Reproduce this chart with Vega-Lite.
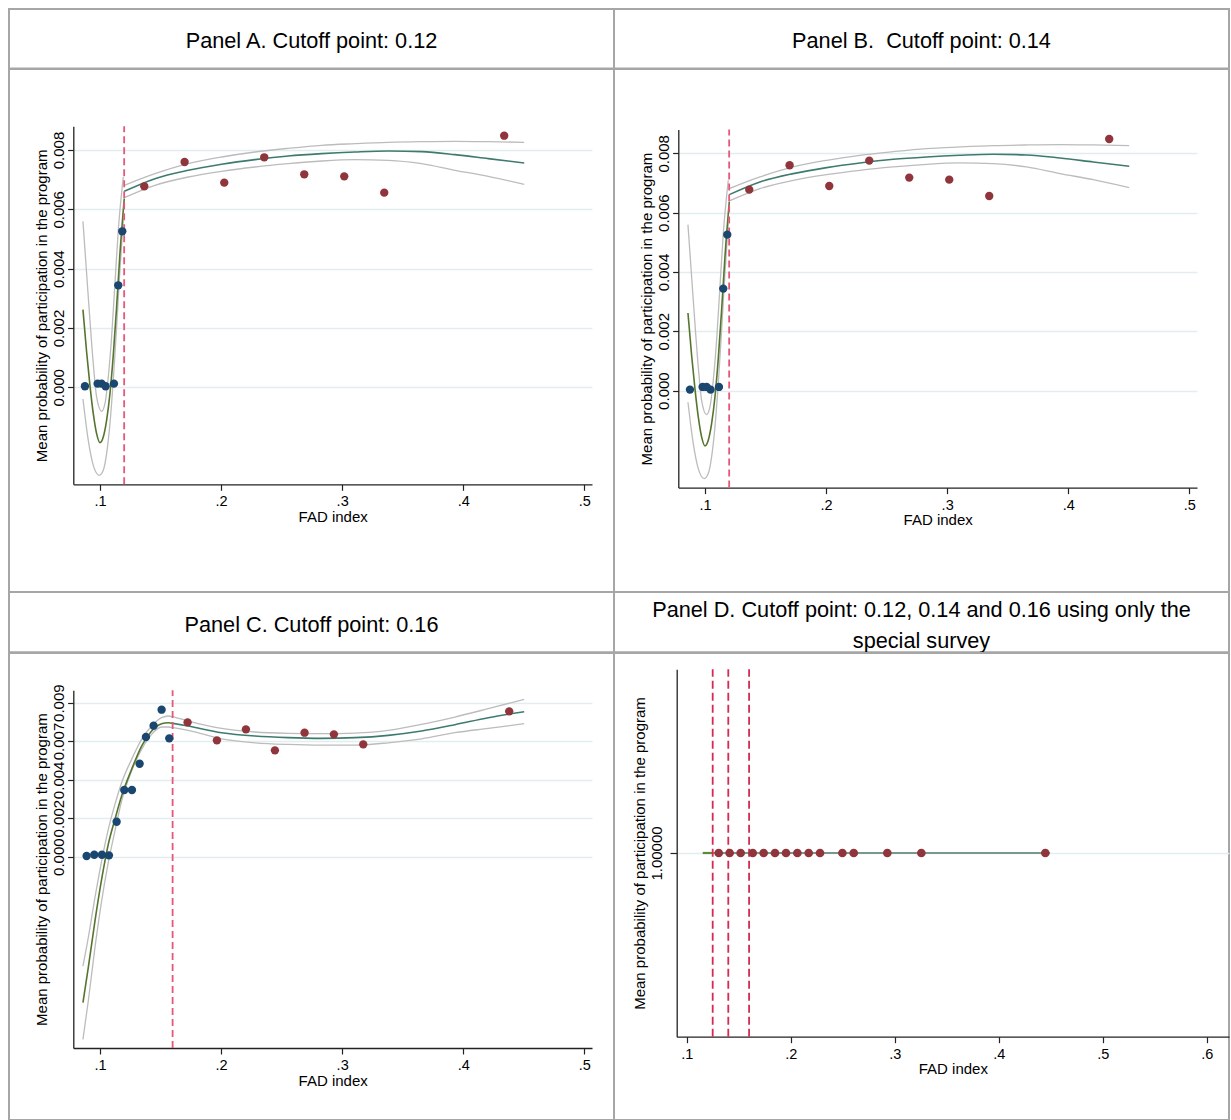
{
  "$schema": "https://vega.github.io/schema/vega-lite/v6.json",
  "padding": {"left": 8, "top": 8, "right": 0, "bottom": 0},
  "columns": 2,
  "spacing": 0,
  "bounds": "flush",
  "datasets": {
    "ptsAB": [
      {"x": 0.08762, "y": 0.000034, "g": "L"}, {"x": 0.09807, "y": 0.000124, "g": "L"}, {"x": 0.10138, "y": 0.000124, "g": "L"},
      {"x": 0.10468, "y": 0.000034, "g": "L"}, {"x": 0.11156, "y": 0.000124, "g": "L"}, {"x": 0.11514, "y": 0.003439, "g": "L"},
      {"x": 0.11844, "y": 0.005259, "g": "L"},
      {"x": 0.1366, "y": 0.006776, "g": "R"}, {"x": 0.1699, "y": 0.007597, "g": "R"}, {"x": 0.20265, "y": 0.0069, "g": "R"},
      {"x": 0.23567, "y": 0.007754, "g": "R"}, {"x": 0.2687, "y": 0.007181, "g": "R"}, {"x": 0.30172, "y": 0.007113, "g": "R"},
      {"x": 0.33474, "y": 0.006563, "g": "R"}, {"x": 0.43381, "y": 0.008484, "g": "R"}
    ],
    "fitAB": [
      {"x": 0.08597, "y": 0.002618, "s": "fitL"}, {"x": 0.08899, "y": 0.001191, "s": "fitL"}, {"x": 0.09174, "y": 0.000067, "s": "fitL"},
      {"x": 0.0945, "y": -0.000888, "s": "fitL"}, {"x": 0.09725, "y": -0.001562, "s": "fitL"}, {"x": 0.1, "y": -0.001865, "s": "fitL"},
      {"x": 0.10275, "y": -0.001674, "s": "fitL"}, {"x": 0.1055, "y": -0.001113, "s": "fitL"}, {"x": 0.10826, "y": -0.000214, "s": "fitL"},
      {"x": 0.11101, "y": 0.001079, "s": "fitL"}, {"x": 0.11376, "y": 0.002708, "s": "fitL"}, {"x": 0.11651, "y": 0.004506, "s": "fitL"},
      {"x": 0.12009, "y": 0.006361, "s": "fitL"},
      {"x": 0.08597, "y": 0.005596, "s": "ciLU"}, {"x": 0.09037, "y": 0.003045, "s": "ciLU"}, {"x": 0.0945, "y": 0.000798, "s": "ciLU"},
      {"x": 0.09725, "y": -0.000326, "s": "ciLU"}, {"x": 0.10138, "y": -0.000809, "s": "ciLU"}, {"x": 0.10413, "y": -0.000551, "s": "ciLU"},
      {"x": 0.10688, "y": 0.000348, "s": "ciLU"}, {"x": 0.10963, "y": 0.001697, "s": "ciLU"}, {"x": 0.11238, "y": 0.003495, "s": "ciLU"},
      {"x": 0.11514, "y": 0.005293, "s": "ciLU"}, {"x": 0.11926, "y": 0.007091, "s": "ciLU"},
      {"x": 0.08597, "y": -0.000393, "s": "ciLL"}, {"x": 0.09037, "y": -0.001787, "s": "ciLL"}, {"x": 0.0945, "y": -0.00263, "s": "ciLL"},
      {"x": 0.09945, "y": -0.002967, "s": "ciLL"}, {"x": 0.10275, "y": -0.002798, "s": "ciLL"}, {"x": 0.1055, "y": -0.002236, "s": "ciLL"},
      {"x": 0.10826, "y": -0.001225, "s": "ciLL"}, {"x": 0.11101, "y": 0.000236, "s": "ciLL"}, {"x": 0.11376, "y": 0.002034, "s": "ciLL"},
      {"x": 0.11651, "y": 0.003944, "s": "ciLL"}, {"x": 0.11926, "y": 0.00563, "s": "ciLL"},
      {"x": 0.12009, "y": 0.006608, "s": "fitR"}, {"x": 0.14541, "y": 0.007035, "s": "fitR"}, {"x": 0.17293, "y": 0.007316, "s": "fitR"},
      {"x": 0.20045, "y": 0.007518, "s": "fitR"}, {"x": 0.22797, "y": 0.007675, "s": "fitR"}, {"x": 0.25549, "y": 0.007799, "s": "fitR"},
      {"x": 0.28301, "y": 0.007878, "s": "fitR"}, {"x": 0.31053, "y": 0.007934, "s": "fitR"}, {"x": 0.33805, "y": 0.007968, "s": "fitR"},
      {"x": 0.36557, "y": 0.007945, "s": "fitR"}, {"x": 0.39309, "y": 0.007844, "s": "fitR"}, {"x": 0.42061, "y": 0.007709, "s": "fitR"},
      {"x": 0.45033, "y": 0.007563, "s": "fitR"},
      {"x": 0.12009, "y": 0.00681, "s": "ciRU"}, {"x": 0.14541, "y": 0.007203, "s": "ciRU"}, {"x": 0.17293, "y": 0.007541, "s": "ciRU"},
      {"x": 0.20045, "y": 0.007765, "s": "ciRU"}, {"x": 0.22797, "y": 0.007934, "s": "ciRU"}, {"x": 0.25549, "y": 0.008057, "s": "ciRU"},
      {"x": 0.28301, "y": 0.008159, "s": "ciRU"}, {"x": 0.31053, "y": 0.008215, "s": "ciRU"}, {"x": 0.33805, "y": 0.00826, "s": "ciRU"},
      {"x": 0.36557, "y": 0.008282, "s": "ciRU"}, {"x": 0.39309, "y": 0.008293, "s": "ciRU"}, {"x": 0.42061, "y": 0.008282, "s": "ciRU"},
      {"x": 0.45033, "y": 0.00826, "s": "ciRU"},
      {"x": 0.12009, "y": 0.006394, "s": "ciRL"}, {"x": 0.14541, "y": 0.00681, "s": "ciRL"}, {"x": 0.17293, "y": 0.007091, "s": "ciRL"},
      {"x": 0.20045, "y": 0.007282, "s": "ciRL"}, {"x": 0.22797, "y": 0.007428, "s": "ciRL"}, {"x": 0.25549, "y": 0.007541, "s": "ciRL"},
      {"x": 0.28301, "y": 0.00763, "s": "ciRL"}, {"x": 0.31053, "y": 0.007675, "s": "ciRL"}, {"x": 0.33805, "y": 0.007653, "s": "ciRL"},
      {"x": 0.36557, "y": 0.007541, "s": "ciRL"}, {"x": 0.39309, "y": 0.007316, "s": "ciRL"}, {"x": 0.42061, "y": 0.007113, "s": "ciRL"},
      {"x": 0.45033, "y": 0.006844, "s": "ciRL"}
    ],
    "cutA": [{"x": 0.12}],
    "ptsC": [
      {"x": 0.08899, "y": 0.000039, "g": "L"}, {"x": 0.09532, "y": 0.000117, "g": "L"}, {"x": 0.10165, "y": 0.000117, "g": "L"},
      {"x": 0.10743, "y": 0.000078, "g": "L"}, {"x": 0.11376, "y": 0.002045, "g": "L"}, {"x": 0.12009, "y": 0.003896, "g": "L"},
      {"x": 0.12642, "y": 0.003896, "g": "L"}, {"x": 0.13275, "y": 0.005435, "g": "L"}, {"x": 0.13798, "y": 0.006994, "g": "L"},
      {"x": 0.14431, "y": 0.007656, "g": "L"}, {"x": 0.15091, "y": 0.008591, "g": "L"}, {"x": 0.15724, "y": 0.006915, "g": "L"},
      {"x": 0.17238, "y": 0.007851, "g": "R"}, {"x": 0.19659, "y": 0.006799, "g": "R"}, {"x": 0.22054, "y": 0.007442, "g": "R"},
      {"x": 0.24448, "y": 0.006214, "g": "R"}, {"x": 0.26897, "y": 0.007247, "g": "R"}, {"x": 0.29319, "y": 0.00715, "g": "R"},
      {"x": 0.31741, "y": 0.006565, "g": "R"}, {"x": 0.43794, "y": 0.008494, "g": "R"}
    ],
    "fitC": [
      {"x": 0.08597, "y": -0.008533, "s": "fitL"}, {"x": 0.09037, "y": -0.006487, "s": "fitL"}, {"x": 0.09587, "y": -0.00376, "s": "fitL"},
      {"x": 0.10138, "y": -0.001325, "s": "fitL"}, {"x": 0.10688, "y": 0.000721, "s": "fitL"}, {"x": 0.11238, "y": 0.002182, "s": "fitL"},
      {"x": 0.11789, "y": 0.003545, "s": "fitL"}, {"x": 0.12614, "y": 0.005104, "s": "fitL"}, {"x": 0.1344, "y": 0.006468, "s": "fitL"},
      {"x": 0.14266, "y": 0.007344, "s": "fitL"}, {"x": 0.15091, "y": 0.007773, "s": "fitL"}, {"x": 0.15642, "y": 0.007831, "s": "fitL"},
      {"x": 0.16027, "y": 0.007792, "s": "fitL"},
      {"x": 0.08597, "y": -0.00639, "s": "ciLU"}, {"x": 0.09037, "y": -0.004734, "s": "ciLU"}, {"x": 0.09587, "y": -0.002396, "s": "ciLU"},
      {"x": 0.10138, "y": -0.000253, "s": "ciLU"}, {"x": 0.10688, "y": 0.001597, "s": "ciLU"}, {"x": 0.11238, "y": 0.003058, "s": "ciLU"},
      {"x": 0.11789, "y": 0.004325, "s": "ciLU"}, {"x": 0.12614, "y": 0.005688, "s": "ciLU"}, {"x": 0.1344, "y": 0.006857, "s": "ciLU"},
      {"x": 0.14266, "y": 0.007636, "s": "ciLU"}, {"x": 0.15091, "y": 0.008123, "s": "ciLU"}, {"x": 0.15642, "y": 0.008221, "s": "ciLU"},
      {"x": 0.16027, "y": 0.008161, "s": "ciLU"},
      {"x": 0.08597, "y": -0.010675, "s": "ciLL"}, {"x": 0.09037, "y": -0.008435, "s": "ciLL"}, {"x": 0.09587, "y": -0.005318, "s": "ciLL"},
      {"x": 0.10138, "y": -0.002591, "s": "ciLL"}, {"x": 0.10688, "y": -0.000351, "s": "ciLL"}, {"x": 0.11238, "y": 0.0015, "s": "ciLL"},
      {"x": 0.11789, "y": 0.003253, "s": "ciLL"}, {"x": 0.12614, "y": 0.005007, "s": "ciLL"}, {"x": 0.1344, "y": 0.006273, "s": "ciLL"},
      {"x": 0.14266, "y": 0.007149, "s": "ciLL"}, {"x": 0.15091, "y": 0.007578, "s": "ciLL"}, {"x": 0.15642, "y": 0.007578, "s": "ciLL"},
      {"x": 0.16027, "y": 0.007539, "s": "ciLL"},
      {"x": 0.16027, "y": 0.007792, "s": "fitR"}, {"x": 0.17293, "y": 0.007636, "s": "fitR"}, {"x": 0.20045, "y": 0.007247, "s": "fitR"},
      {"x": 0.22797, "y": 0.007052, "s": "fitR"}, {"x": 0.25549, "y": 0.006956, "s": "fitR"}, {"x": 0.28301, "y": 0.006916, "s": "fitR"},
      {"x": 0.31053, "y": 0.006956, "s": "fitR"}, {"x": 0.33805, "y": 0.007091, "s": "fitR"}, {"x": 0.36557, "y": 0.007344, "s": "fitR"},
      {"x": 0.39309, "y": 0.007714, "s": "fitR"}, {"x": 0.42061, "y": 0.008123, "s": "fitR"}, {"x": 0.45033, "y": 0.008474, "s": "fitR"},
      {"x": 0.16027, "y": 0.008182, "s": "ciRU"}, {"x": 0.17293, "y": 0.007929, "s": "ciRU"}, {"x": 0.20045, "y": 0.0075, "s": "ciRU"},
      {"x": 0.22797, "y": 0.007286, "s": "ciRU"}, {"x": 0.25549, "y": 0.007208, "s": "ciRU"}, {"x": 0.28301, "y": 0.007188, "s": "ciRU"},
      {"x": 0.31053, "y": 0.007227, "s": "ciRU"}, {"x": 0.33805, "y": 0.007383, "s": "ciRU"}, {"x": 0.36557, "y": 0.007734, "s": "ciRU"},
      {"x": 0.39309, "y": 0.008162, "s": "ciRU"}, {"x": 0.42061, "y": 0.00865, "s": "ciRU"}, {"x": 0.45033, "y": 0.009195, "s": "ciRU"},
      {"x": 0.16027, "y": 0.007539, "s": "ciRL"}, {"x": 0.17293, "y": 0.00738, "s": "ciRL"}, {"x": 0.20045, "y": 0.00689, "s": "ciRL"},
      {"x": 0.22797, "y": 0.006656, "s": "ciRL"}, {"x": 0.25549, "y": 0.006559, "s": "ciRL"}, {"x": 0.28301, "y": 0.00652, "s": "ciRL"},
      {"x": 0.31053, "y": 0.00652, "s": "ciRL"}, {"x": 0.33805, "y": 0.006656, "s": "ciRL"}, {"x": 0.36557, "y": 0.00689, "s": "ciRL"},
      {"x": 0.39309, "y": 0.007247, "s": "ciRL"}, {"x": 0.42061, "y": 0.0075, "s": "ciRL"}, {"x": 0.45033, "y": 0.007773, "s": "ciRL"}
    ],
    "cutC": [{"x": 0.16}],
    "ptsD": [
      {"x": 0.1308, "y": 1, "g": "R"}, {"x": 0.1413, "y": 1, "g": "R"}, {"x": 0.1519, "y": 1, "g": "R"}, {"x": 0.1635, "y": 1, "g": "R"},
      {"x": 0.174, "y": 1, "g": "R"}, {"x": 0.1849, "y": 1, "g": "R"}, {"x": 0.1955, "y": 1, "g": "R"}, {"x": 0.2064, "y": 1, "g": "R"},
      {"x": 0.2173, "y": 1, "g": "R"}, {"x": 0.2282, "y": 1, "g": "R"}, {"x": 0.2497, "y": 1, "g": "R"}, {"x": 0.2606, "y": 1, "g": "R"},
      {"x": 0.2929, "y": 1, "g": "R"}, {"x": 0.3256, "y": 1, "g": "R"}, {"x": 0.4448, "y": 1, "g": "R"}
    ],
    "fitD": [
      {"x": 0.1154, "y": 1, "s": "fitL"}, {"x": 0.1253, "y": 1, "s": "fitL"},
      {"x": 0.1253, "y": 1, "s": "fitR"}, {"x": 0.4493, "y": 1, "s": "fitR"}
    ],
    "cutD": [{"x": 0.125}, {"x": 0.14}, {"x": 0.16}]
  },
  "concat": [
    {
      "width": 605, "height": 59.4,
      "data": {"values": [{"t": "Panel A. Cutoff point: 0.12"}]},
      "layer": [
        {"mark": {"type": "rect", "fill": "#ffffff", "fillOpacity": 0, "stroke": "#a6a6a6", "strokeWidth": 2}, "encoding": {}},
        {"mark": {"type": "text", "font": "Liberation Sans", "fontSize": 21.7, "baseline": "alphabetic", "dy": 9.3, "color": "#000"},
         "encoding": {"text": {"field": "t"}}}
      ]
    },
    {
      "width": 615, "height": 59.4,
      "data": {"values": [{"t": "Panel B.\u00a0 Cutoff point: 0.14"}]},
      "layer": [
        {"mark": {"type": "rect", "fill": "#ffffff", "fillOpacity": 0, "stroke": "#a6a6a6", "strokeWidth": 2}, "encoding": {}},
        {"mark": {"type": "text", "font": "Liberation Sans", "fontSize": 21.7, "baseline": "alphabetic", "dy": 9.3, "color": "#000"},
         "encoding": {"text": {"field": "t"}}}
      ]
    },
    {
      "width": 605, "height": 523,
      "resolve": {"scale": {"color": "independent"}},
      "layer": [
        {
          "data": {"name": "fitAB"},
          "transform": [{"filter": {"field": "s", "oneOf": ["ciLU", "ciLL", "ciRU", "ciRL"]}}],
          "mark": {"type": "line", "interpolate": "monotone", "color": "#bcbcbc", "strokeWidth": 1.3},
          "encoding": {
            "x": {"field": "x", "type": "quantitative", "title": "FAD index",
              "scale": {"domain": [0.078, 0.5063], "range": [64.3, 583], "nice": false, "zero": false},
              "axis": {"offset": -107.7, "values": [0.1, 0.2, 0.3, 0.4, 0.5], "labelExpr": "'.' + round(datum.value*10)"}},
            "y": {"field": "y", "type": "quantitative", "title": "Mean probability of participation in the program",
              "scale": {"domain": [-0.00327, 0.0088], "range": [415.3, 57.3], "nice": false, "zero": false},
              "axis": {"offset": -64.3, "values": [0, 0.002, 0.004, 0.006, 0.008], "format": ".3f"}},
            "detail": {"field": "s"}
          }
        },
        {
          "data": {"name": "fitAB"},
          "transform": [{"filter": {"field": "s", "oneOf": ["fitL", "fitR"]}}],
          "mark": {"type": "line", "interpolate": "monotone", "strokeWidth": 1.6},
          "encoding": {
            "x": {"field": "x", "type": "quantitative", "title": "FAD index"},
            "y": {"field": "y", "type": "quantitative", "title": "Mean probability of participation in the program"},
            "color": {"field": "s", "type": "nominal", "legend": null, "scale": {"domain": ["fitL", "fitR"], "range": ["#55752f", "#3e7b6e"]}}
          }
        },
        {
          "data": {"name": "cutA"},
          "mark": {"type": "rule", "color": "#e5587a", "strokeWidth": 1.8, "strokeDash": [7, 4]},
          "encoding": {
            "x": {"field": "x", "type": "quantitative", "title": "FAD index"},
            "y": {"datum": -0.00327},
            "y2": {"datum": 0.0088}
          }
        },
        {
          "data": {"name": "ptsAB"},
          "mark": {"type": "point", "filled": true, "opacity": 1, "size": 70},
          "encoding": {
            "x": {"field": "x", "type": "quantitative", "title": "FAD index"},
            "y": {"field": "y", "type": "quantitative", "title": "Mean probability of participation in the program"},
            "color": {"field": "g", "type": "nominal", "legend": null, "scale": {"domain": ["L", "R"], "range": ["#1a476f", "#90353b"]}}
          }
        }
      ]
    },
    {
      "width": 615, "height": 523,
      "resolve": {"scale": {"color": "independent"}},
      "layer": [
        {
          "data": {"name": "fitAB"},
          "transform": [{"filter": {"field": "s", "oneOf": ["ciLU", "ciLL", "ciRU", "ciRL"]}}],
          "mark": {"type": "line", "interpolate": "monotone", "color": "#bcbcbc", "strokeWidth": 1.3},
          "encoding": {
            "x": {"field": "x", "type": "quantitative", "title": "FAD index",
              "scale": {"domain": [0.078, 0.5063], "range": [64.3, 583], "nice": false, "zero": false},
              "axis": {"offset": -104.4, "values": [0.1, 0.2, 0.3, 0.4, 0.5], "labelExpr": "'.' + round(datum.value*10)"}},
            "y": {"field": "y", "type": "quantitative", "title": "Mean probability of participation in the program",
              "scale": {"domain": [-0.00327, 0.0088], "range": [418.6, 60.6], "nice": false, "zero": false},
              "axis": {"offset": -64.3, "values": [0, 0.002, 0.004, 0.006, 0.008], "format": ".3f"}},
            "detail": {"field": "s"}
          }
        },
        {
          "data": {"name": "fitAB"},
          "transform": [{"filter": {"field": "s", "oneOf": ["fitL", "fitR"]}}],
          "mark": {"type": "line", "interpolate": "monotone", "strokeWidth": 1.6},
          "encoding": {
            "x": {"field": "x", "type": "quantitative", "title": "FAD index"},
            "y": {"field": "y", "type": "quantitative", "title": "Mean probability of participation in the program"},
            "color": {"field": "s", "type": "nominal", "legend": null, "scale": {"domain": ["fitL", "fitR"], "range": ["#55752f", "#3e7b6e"]}}
          }
        },
        {
          "data": {"name": "cutA"},
          "mark": {"type": "rule", "color": "#e5587a", "strokeWidth": 1.8, "strokeDash": [7, 4]},
          "encoding": {
            "x": {"field": "x", "type": "quantitative", "title": "FAD index"},
            "y": {"datum": -0.00327},
            "y2": {"datum": 0.0088}
          }
        },
        {
          "data": {"name": "ptsAB"},
          "mark": {"type": "point", "filled": true, "opacity": 1, "size": 70},
          "encoding": {
            "x": {"field": "x", "type": "quantitative", "title": "FAD index"},
            "y": {"field": "y", "type": "quantitative", "title": "Mean probability of participation in the program"},
            "color": {"field": "g", "type": "nominal", "legend": null, "scale": {"domain": ["L", "R"], "range": ["#1a476f", "#90353b"]}}
          }
        }
      ]
    },
    {
      "width": 605, "height": 60.3,
      "data": {"values": [{"t": "Panel C. Cutoff point: 0.16"}]},
      "layer": [
        {"mark": {"type": "rect", "fill": "#ffffff", "fillOpacity": 0, "stroke": "#a6a6a6", "strokeWidth": 2}, "encoding": {}},
        {"mark": {"type": "text", "font": "Liberation Sans", "fontSize": 21.7, "baseline": "alphabetic", "dy": 10, "color": "#000"},
         "encoding": {"text": {"field": "t"}}}
      ]
    },
    {
      "width": 615, "height": 60.3,
      "data": {"values": [{"t": ["Panel D. Cutoff point: 0.12, 0.14 and 0.16 using only the", "special survey"]}]},
      "layer": [
        {"mark": {"type": "rect", "fill": "#ffffff", "fillOpacity": 0, "stroke": "#a6a6a6", "strokeWidth": 2}, "encoding": {}},
        {"mark": {"type": "text", "font": "Liberation Sans", "fontSize": 21.7, "baseline": "alphabetic", "dy": -5, "lineHeight": 30.5, "color": "#000"},
         "encoding": {"text": {"field": "t"}}}
      ]
    },
    {
      "width": 605, "height": 467,
      "resolve": {"scale": {"color": "independent"}},
      "layer": [
        {
          "data": {"name": "fitC"},
          "transform": [{"filter": {"field": "s", "oneOf": ["ciLU", "ciLL", "ciRU", "ciRL"]}}],
          "mark": {"type": "line", "interpolate": "monotone", "color": "#bcbcbc", "strokeWidth": 1.3},
          "encoding": {
            "x": {"field": "x", "type": "quantitative", "title": "FAD index",
              "scale": {"domain": [0.078, 0.5063], "range": [64.3, 583], "nice": false, "zero": false},
              "axis": {"offset": -72, "values": [0.1, 0.2, 0.3, 0.4, 0.5], "labelExpr": "'.' + round(datum.value*10)"}},
            "y": {"field": "y", "type": "quantitative", "title": "Mean probability of participation in the program",
              "scale": {"domain": [-0.01118, 0.00973], "range": [395, 37.2], "nice": false, "zero": false},
              "axis": {"offset": -64.3, "values": [0, 0.00225, 0.00449, 0.00676, 0.009], "format": ".3f"}},
            "detail": {"field": "s"}
          }
        },
        {
          "data": {"name": "fitC"},
          "transform": [{"filter": {"field": "s", "oneOf": ["fitL", "fitR"]}}],
          "mark": {"type": "line", "interpolate": "monotone", "strokeWidth": 1.6},
          "encoding": {
            "x": {"field": "x", "type": "quantitative", "title": "FAD index"},
            "y": {"field": "y", "type": "quantitative", "title": "Mean probability of participation in the program"},
            "color": {"field": "s", "type": "nominal", "legend": null, "scale": {"domain": ["fitL", "fitR"], "range": ["#55752f", "#3e7b6e"]}}
          }
        },
        {
          "data": {"name": "cutC"},
          "mark": {"type": "rule", "color": "#e5587a", "strokeWidth": 1.8, "strokeDash": [7, 4]},
          "encoding": {
            "x": {"field": "x", "type": "quantitative", "title": "FAD index"},
            "y": {"datum": -0.01118},
            "y2": {"datum": 0.00973}
          }
        },
        {
          "data": {"name": "ptsC"},
          "mark": {"type": "point", "filled": true, "opacity": 1, "size": 70},
          "encoding": {
            "x": {"field": "x", "type": "quantitative", "title": "FAD index"},
            "y": {"field": "y", "type": "quantitative", "title": "Mean probability of participation in the program"},
            "color": {"field": "g", "type": "nominal", "legend": null, "scale": {"domain": ["L", "R"], "range": ["#1a476f", "#90353b"]}}
          }
        }
      ]
    },
    {
      "width": 615, "height": 467,
      "resolve": {"scale": {"color": "independent"}},
      "layer": [
        {
          "data": {"name": "fitD"},
          "mark": {"type": "line", "strokeWidth": 2.2},
          "encoding": {
            "x": {"field": "x", "type": "quantitative", "title": "FAD index",
              "scale": {"domain": [0.0904, 0.6214], "range": [62.7, 615], "nice": false, "zero": false},
              "axis": {"offset": -83.3, "values": [0.1, 0.2, 0.3, 0.4, 0.5, 0.6], "labelExpr": "'.' + round(datum.value*10)"}},
            "y": {"field": "y", "type": "quantitative", "title": "Mean probability of participation in the program",
              "scale": {"domain": [0, 2], "range": [383.7, 16.3], "nice": false, "zero": false},
              "axis": {"offset": -62.7, "values": [1], "format": ".5f", "tickSize": 6.7, "labelPadding": 5.5}},
            "color": {"field": "s", "type": "nominal", "legend": null, "scale": {"domain": ["fitL", "fitR"], "range": ["#5c8a3a", "#7a978c"]}}
          }
        },
        {
          "data": {"name": "cutD"},
          "mark": {"type": "rule", "color": "#d62a52", "strokeWidth": 1.8, "strokeDash": [8, 4]},
          "encoding": {
            "x": {"field": "x", "type": "quantitative", "title": "FAD index"},
            "y": {"datum": 0},
            "y2": {"datum": 2}
          }
        },
        {
          "data": {"name": "ptsD"},
          "mark": {"type": "point", "filled": true, "opacity": 1, "size": 75},
          "encoding": {
            "x": {"field": "x", "type": "quantitative", "title": "FAD index"},
            "y": {"field": "y", "type": "quantitative", "title": "Mean probability of participation in the program"},
            "color": {"field": "g", "type": "nominal", "legend": null, "scale": {"domain": ["R"], "range": ["#90353b"]}}
          }
        }
      ]
    }
  ],
  "config": {
    "view": {"stroke": "#a6a6a6", "strokeWidth": 2},
    "axis": {
      "labelFont": "Liberation Sans", "labelFontSize": 14.5, "labelColor": "#000",
      "titleFont": "Liberation Sans", "titleFontSize": 15, "titleFontWeight": "normal", "titleColor": "#000",
      "domainColor": "#222", "domainWidth": 1.3, "tickColor": "#222", "tickWidth": 1.2,
      "gridColor": "#e3edf0", "gridWidth": 1.3, "labelOverlap": false, "labelBound": false, "labelFlush": false
    },
    "axisX": {"grid": false, "tickSize": 6, "labelPadding": 4.5, "titlePadding": 1, "labelBaseline": "top"},
    "axisY": {"grid": true, "tickSize": 5.7, "labelPadding": 1.5, "titlePadding": 2, "labelFontSize": 15, "labelAngle": -90, "labelAlign": "center", "labelBaseline": "bottom"}
  }
}
